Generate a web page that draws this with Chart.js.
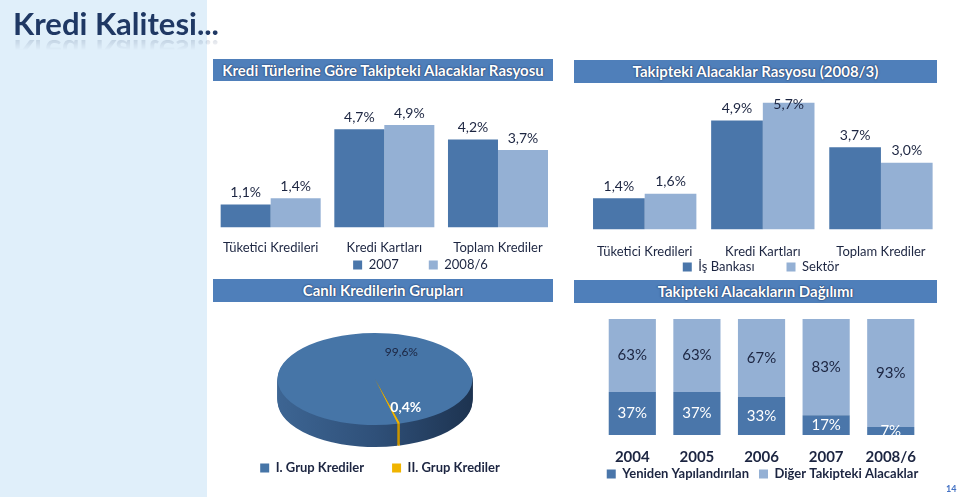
<!DOCTYPE html>
<html>
<head>
<meta charset="utf-8">
<script src="https://cdn.jsdelivr.net/npm/chart.js@4.4.0/dist/chart.umd.min.js"></script>
<style>
  body { margin: 0; width: 959px; height: 500px; position: relative; overflow: hidden; background: #fff; font-family: Lato, sans-serif; }
  #serit { position: absolute; left: 0; top: 0; width: 207px; height: 497px; background: #e0effa; }
  #baslik { position: absolute; left: 13px; top: 4px; font-size: 31px; font-weight: bold; color: #1f3864; line-height: 38px;
            -webkit-box-reflect: below -9px linear-gradient(transparent 55%, rgba(255,255,255,.25)); }
  .bant { position: absolute; background: #4f7fba; color: #fff; font-weight: bold; font-size: 15px; text-align: center;
          text-shadow: 0 0 2px #1f3864, 0 0 1px #1f3864; }
  canvas { position: absolute; }
  #sayfa { position: absolute; left: 946px; top: 483px; font-size: 9px; font-weight: bold; color: #4472c4; }
</style>
</head>
<body>
<div id="serit"></div>
<div id="baslik">Kredi Kalitesi...</div>

<canvas id="grafik1" width="345" height="232" style="left:210px;top:90px"></canvas>
<canvas id="grafik2" width="358" height="242" style="left:582px;top:88px"></canvas>
<canvas id="grafik3" width="360" height="186" style="left:195px;top:300px"></canvas>
<canvas id="grafik4" width="369" height="200" style="left:560px;top:312px"></canvas>

<div class="bant" style="left:213px;top:59px;width:340px;height:22px;line-height:22px">Kredi Türlerine Göre Takipteki Alacaklar Rasyosu</div>
<div class="bant" style="left:574px;top:60px;width:363px;height:23px;line-height:23px">Takipteki Alacaklar Rasyosu (2008/3)</div>
<div class="bant" style="left:213px;top:279px;width:340px;height:23px;line-height:23px">Canlı Kredilerin Grupları</div>
<div class="bant" style="left:574px;top:280px;width:363px;height:23px;line-height:23px">Takipteki Alacakların Dağılımı</div>
<div id="sayfa">14</div>

<script>
// Veriler
const krediTurleri = ['Tüketici Kredileri', 'Kredi Kartları', 'Toplam Krediler'];
const oran2007 = [1.1, 4.7, 4.2];
const oran2008_6 = [1.4, 4.9, 3.7];

const isBankasi = [1.4, 4.9, 3.7];
const sektor = [1.6, 5.7, 3.0];

const grupEtiketleri = ['I. Grup Krediler', 'II. Grup Krediler'];
const grupPaylari = [99.6, 0.4];

const yillar = ['2004', '2005', '2006', '2007', '2008/6'];
const yenidenYapilandirilan = [37, 37, 33, 17, 7];
const digerTakipteki = [63, 63, 67, 83, 93];

const KOYU = '#4a76aa';
const ACIK = '#94b0d4';
const YAZI = '#1c2541';

const ondalik = v => v.toFixed(1).replace('.', ',') + '%';
const tamsayi = v => v + '%';

// sütun etiketleri
const etiketEklentisi = {
  id: 'etiket',
  afterDatasetsDraw(chart, args, opts) {
    const ctx = chart.ctx;
    const alan = chart.chartArea;
    ctx.save();
    if (opts.kirp) {
      ctx.beginPath();
      ctx.rect(alan.left, alan.top, alan.right - alan.left, alan.bottom - alan.top);
      ctx.clip();
    }
    ctx.font = opts.font;
    ctx.textAlign = 'center';
    ctx.textBaseline = 'middle';
    chart.data.datasets.forEach((ds, i) => {
      chart.getDatasetMeta(i).data.forEach((bar, j) => {
        let y;
        if (opts.konum === 'orta') y = (bar.y + bar.base) / 2;
        else y = Math.max(bar.y - opts.bosluk, alan.top + opts.ustSinir);
        ctx.fillStyle = opts.renkler[i];
        ctx.fillText(opts.bicim(ds.data[j]), bar.x, y);
      });
    });
    ctx.restore();
  }
};

// lejantı eksen yazılarına yaklaştır
const lejantEklentisi = {
  id: 'lejantYeri',
  afterLayout(chart, args, opts) {
    const lg = chart.legend;
    if (!lg) return;
    const boy = lg.height;
    lg.top = opts.y - lg.options.labels.padding - opts.yaziBoyu / 2;
    lg.bottom = lg.top + boy;
    const dx = opts.dx || 0;
    lg.left += dx;
    lg.right += dx;
  }
};

// yatık (3B görünümlü) pasta
const pastaEklentisi = {
  id: 'pasta3b',
  beforeDatasetsDraw(chart, args, opts) {
    const ctx = chart.ctx;
    const dilimler = chart.getDatasetMeta(0).data;
    const d0 = dilimler[0];
    const r = d0.outerRadius, cx = d0.x, cy = d0.y;
    const sx = opts.rx / r, sy = opts.ry / r;
    const tx = cx, ty = opts.merkezY;
    for (let k = opts.derinlik; k >= 1; k--) {
      ctx.save();
      ctx.translate(tx, ty + k);
      ctx.scale(sx, sy);
      ctx.translate(-cx, -cy);
      dilimler.forEach((dl, i) => {
        let dolgu = opts.yanRenkler[i];
        if (i === 0) {
          dolgu = ctx.createLinearGradient(cx - r, 0, cx + r, 0);
          dolgu.addColorStop(0, '#3d6593');
          dolgu.addColorStop(0.5, '#2f5079');
          dolgu.addColorStop(1, '#1d3350');
        }
        ctx.fillStyle = dolgu;
        ctx.beginPath();
        ctx.moveTo(cx, cy);
        ctx.arc(cx, cy, r, dl.startAngle, dl.endAngle);
        ctx.closePath();
        ctx.fill();
      });
      ctx.restore();
    }
    ctx.save();
    ctx.translate(tx, ty);
    ctx.scale(sx, sy);
    ctx.translate(-cx, -cy);
  },
  afterDatasetsDraw(chart, args, opts) {
    const ctx = chart.ctx;
    ctx.restore();
    const dilimler = chart.getDatasetMeta(0).data;
    const d0 = dilimler[0];
    ctx.save();
    ctx.textBaseline = 'middle';
    dilimler.forEach((dl, i) => {
      const e = opts.etiketler[i];
      let aci = e.aci;
      if (aci === null) aci = ((dl.startAngle + dl.endAngle) / 2) * 180 / Math.PI + 90;
      const rad = aci * Math.PI / 180;
      const x = d0.x + Math.sin(rad) * e.uzaklik * opts.rx;
      const y = opts.merkezY - Math.cos(rad) * e.uzaklik * opts.ry;
      ctx.font = e.font;
      ctx.fillStyle = e.renk;
      ctx.textAlign = e.hiza;
      ctx.fillText(ondalik(chart.data.datasets[0].data[i]), x, y);
    });
    ctx.restore();
  }
};

const ortakSecenek = {
  responsive: false,
  animation: false,
  events: []
};

function lejant(bosluk, boyut, kalin) {
  return {
    position: 'bottom',
    labels: { boxWidth: 9, boxHeight: 9, padding: bosluk, color: YAZI,
              font: { family: 'Lato', size: boyut, weight: kalin ? 'bold' : 'normal' } }
  };
}

new Chart(document.getElementById('grafik1'), {
  type: 'bar',
  data: {
    labels: krediTurleri,
    datasets: [
      { label: '2007', data: oran2007, backgroundColor: KOYU },
      { label: '2008/6', data: oran2008_6, backgroundColor: ACIK }
    ]
  },
  options: {
    ...ortakSecenek,
    layout: { padding: { top: 12 } },
    datasets: { bar: { categoryPercentage: 0.88, barPercentage: 1 } },
    scales: {
      y: { display: false, min: 0, max: 6 },
      x: { grid: { display: false, drawTicks: false }, border: { display: false },
           ticks: { font: { family: 'Lato', size: 13 }, color: YAZI, padding: 13 } }
    },
    plugins: {
      legend: lejant(30, 13, false),
      lejantYeri: { y: 175, yaziBoyu: 13, dx: 38 },
      tooltip: { enabled: false },
      etiket: { font: '14px Lato', konum: 'ust', bosluk: 12, ustSinir: 7, renkler: [YAZI, YAZI], bicim: ondalik }
    }
  },
  plugins: [etiketEklentisi, lejantEklentisi]
});

new Chart(document.getElementById('grafik2'), {
  type: 'bar',
  data: {
    labels: krediTurleri,
    datasets: [
      { label: 'İş Bankası', data: isBankasi, backgroundColor: KOYU },
      { label: 'Sektör', data: sektor, backgroundColor: ACIK }
    ]
  },
  options: {
    ...ortakSecenek,
    layout: { padding: { top: 8 } },
    datasets: { bar: { categoryPercentage: 0.875, barPercentage: 1 } },
    scales: {
      y: { display: false, min: 0, max: 6 },
      x: { grid: { display: false, drawTicks: false }, border: { display: false },
           ticks: { font: { family: 'Lato', size: 13 }, color: YAZI, padding: 15 } }
    },
    plugins: {
      legend: lejant(32, 13, false),
      lejantYeri: { y: 179, yaziBoyu: 13 },
      tooltip: { enabled: false },
      etiket: { font: '14px Lato', konum: 'ust', bosluk: 12, ustSinir: 8, renkler: [YAZI, YAZI], bicim: ondalik }
    }
  },
  plugins: [etiketEklentisi, lejantEklentisi]
});

new Chart(document.getElementById('grafik3'), {
  type: 'pie',
  data: {
    labels: grupEtiketleri,
    datasets: [{ data: grupPaylari, backgroundColor: ['#4675a7', '#f0b400'], borderWidth: 0 }]
  },
  options: {
    ...ortakSecenek,
    rotation: 166.5,
    plugins: {
      legend: lejant(28, 13, true),
      lejantYeri: { y: 168, yaziBoyu: 13, dx: 5 },
      tooltip: { enabled: false },
      pasta3b: {
        rx: 97.5, ry: 46, merkezY: 79, derinlik: 22,
        yanRenkler: ['#2f5079', '#c99400'],
        etiketler: [
          { aci: 25, uzaklik: 0.64, font: '12px Lato', renk: YAZI, hiza: 'center' },
          { aci: null, uzaklik: 0.64, font: 'bold 14px Lato', renk: '#ffffff', hiza: 'left' }
        ]
      }
    }
  },
  plugins: [pastaEklentisi, lejantEklentisi]
});

new Chart(document.getElementById('grafik4'), {
  type: 'bar',
  data: {
    labels: yillar,
    datasets: [
      { label: 'Yeniden Yapılandırılan', data: yenidenYapilandirilan, backgroundColor: KOYU },
      { label: 'Diğer Takipteki Alacaklar', data: digerTakipteki, backgroundColor: ACIK }
    ]
  },
  options: {
    ...ortakSecenek,
    layout: { padding: { top: 7 } },
    datasets: { bar: { categoryPercentage: 0.73, barPercentage: 1 } },
    scales: {
      y: { stacked: true, min: 0, max: 100, ticks: { display: false }, grid: { display: false }, border: { display: false },
           afterFit: s => { s.width = 40; } },
      x: { stacked: true, grid: { display: false, drawTicks: false }, border: { display: false },
           ticks: { font: { family: 'Lato', size: 15, weight: 'bold' }, color: YAZI, padding: 13 } }
    },
    plugins: {
      legend: lejant(10, 13, true),
      lejantYeri: { y: 162, yaziBoyu: 13, dx: 18 },
      tooltip: { enabled: false },
      etiket: { font: '15px Lato', konum: 'orta', kirp: true, renkler: ['#ffffff', YAZI], bicim: tamsayi }
    }
  },
  plugins: [etiketEklentisi, lejantEklentisi]
});
</script>
</body>
</html>
